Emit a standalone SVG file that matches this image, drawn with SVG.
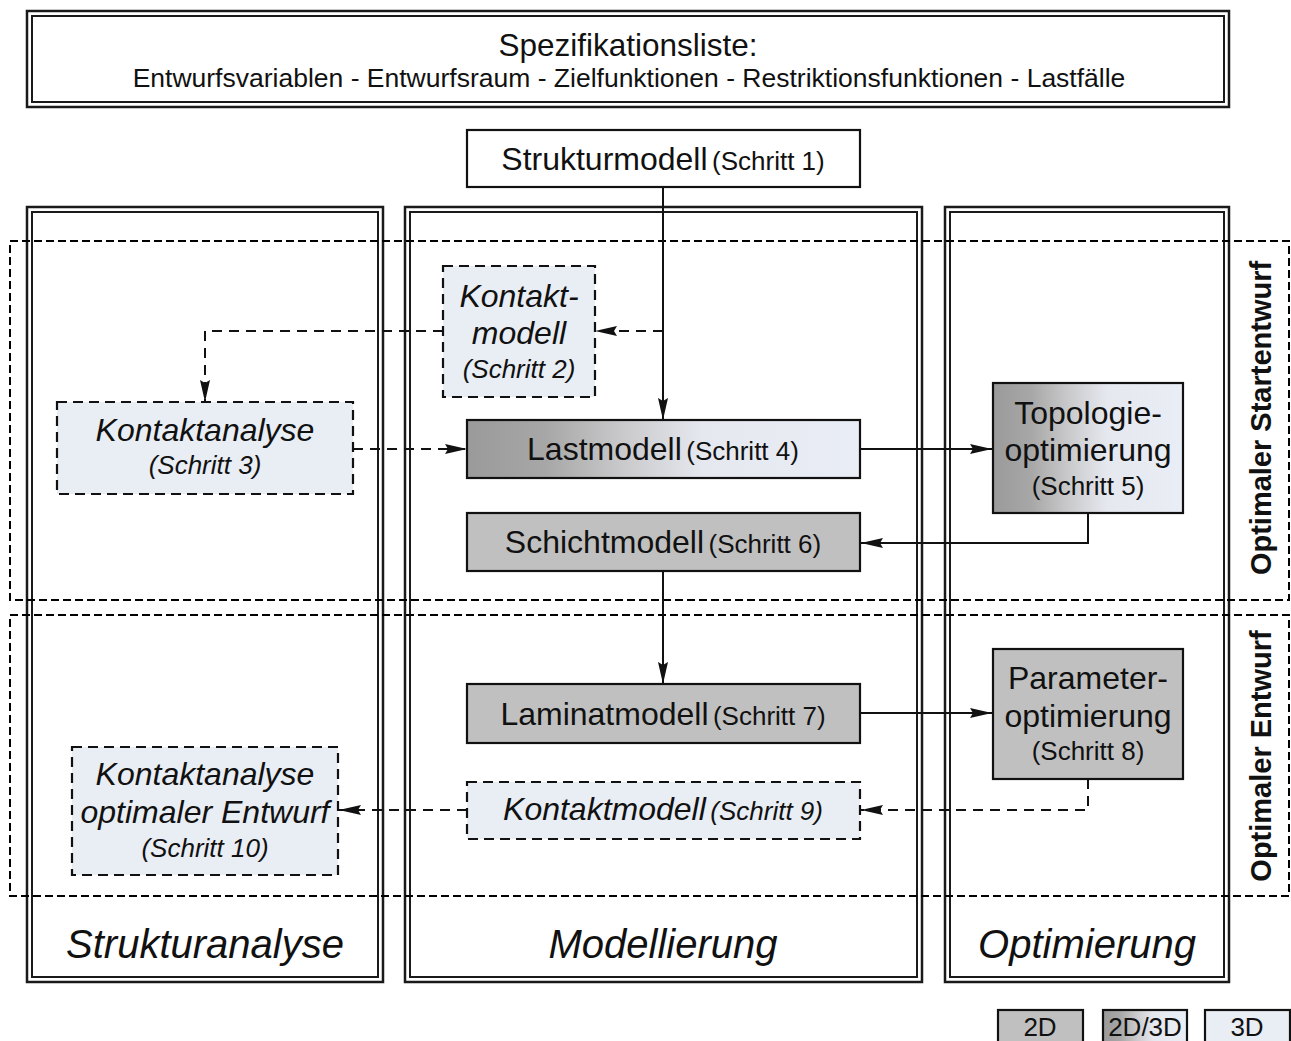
<svg xmlns="http://www.w3.org/2000/svg" width="1291" height="1041" viewBox="0 0 1291 1041">
  <style>
    text { font-family: "Liberation Sans", Arial, sans-serif; fill: #111; }
    .big { font-size: 32px; }
    .small { font-size: 26px; }
    .it { font-style: italic; }
    .col { font-size: 40px; font-style: italic; }
    .phase { font-size: 29px; font-weight: bold; }
    .dbl-out { fill: none; stroke: #1a1a1a; stroke-width: 2.5; }
    .dbl-in { fill: none; stroke: #1a1a1a; stroke-width: 2; }
    .region { fill: none; stroke: #000; stroke-width: 2; stroke-dasharray: 8 4; }
    .solidbox { stroke: #111; stroke-width: 2.2; }
    .dashbox { fill: #e9edf4; stroke: #111; stroke-width: 2.2; stroke-dasharray: 10 6; }
    .gray { fill: #c0c0c0; }
    .light { fill: #e9edf4; }
    .grad { fill: url(#g2d3d); }
    .conn { fill: none; stroke: #111; stroke-width: 2; marker-end: url(#arrow); }
    .conn.dash { stroke-dasharray: 10 7; }
  </style>
  <defs>
    <linearGradient id="g2d3d" x1="0" y1="0" x2="1" y2="0">
      <stop offset="0" stop-color="#9a9a9a"/>
      <stop offset="0.2" stop-color="#a7a7a7"/>
      <stop offset="0.4" stop-color="#cacacc"/>
      <stop offset="0.6" stop-color="#e5e8ef"/>
      <stop offset="1" stop-color="#e9edf5"/>
    </linearGradient>
    <marker id="arrow" viewBox="0 0 22 10" refX="22" refY="5" markerWidth="22" markerHeight="10" markerUnits="userSpaceOnUse" orient="auto">
      <path d="M0,0 L22,5 L0,10 L3,5 z" fill="#111" stroke="none"/>
    </marker>
  </defs>

  <rect width="1291" height="1041" fill="#fff"/>

  <!-- specification list -->
  <g id="spec">
    <rect class="dbl-out" x="27" y="11" width="1202" height="96"/>
    <rect class="dbl-in" x="32" y="16" width="1192" height="86"/>
    <text x="628" y="56" text-anchor="middle" style="font-size:31.5px">Spezifikationsliste:</text>
    <text x="629" y="87" text-anchor="middle" style="font-size:26.5px">Entwurfsvariablen - Entwurfsraum - Zielfunktionen - Restriktionsfunktionen - Lastfälle</text>
  </g>

  <!-- columns -->
  <g id="col-strukturanalyse">
    <rect class="dbl-out" x="27" y="207" width="356" height="775"/>
    <rect class="dbl-in" x="32" y="212" width="346" height="765"/>
    <text class="col" x="205" y="958" text-anchor="middle">Strukturanalyse</text>
  </g>
  <g id="col-modellierung">
    <rect class="dbl-out" x="405" y="207" width="517" height="775"/>
    <rect class="dbl-in" x="410" y="212" width="507" height="765"/>
    <text class="col" x="663" y="958" text-anchor="middle">Modellierung</text>
  </g>
  <g id="col-optimierung">
    <rect class="dbl-out" x="945" y="207" width="284" height="775"/>
    <rect class="dbl-in" x="950" y="212" width="274" height="765"/>
    <text class="col" x="1087" y="958" text-anchor="middle">Optimierung</text>
  </g>

  <!-- phases -->
  <g id="phase-start">
    <rect class="region" x="10" y="241" width="1279" height="359"/>
    <text class="phase" transform="translate(1271,418) rotate(-90)" text-anchor="middle">Optimaler Startentwurf</text>
  </g>
  <g id="phase-final">
    <rect class="region" x="10" y="615" width="1279" height="281"/>
    <text class="phase" transform="translate(1271,756) rotate(-90)" text-anchor="middle">Optimaler Entwurf</text>
  </g>

  <!-- connectors -->
  <g id="connectors">
    <path class="conn" d="M663,187 V420"/>
    <path class="conn dash" d="M663,331 H595"/>
    <path class="conn dash" d="M443,331 H205 V402"/>
    <path class="conn dash" d="M353,449 H467"/>
    <path class="conn" d="M860,449 H992"/>
    <path class="conn" d="M1088,513 V543 H861"/>
    <path class="conn" d="M663,571 V684"/>
    <path class="conn" d="M860,713 H992"/>
    <path class="conn dash" d="M1088,779 V810 H861"/>
    <path class="conn dash" d="M467,810 H339"/>
  </g>

  <!-- nodes -->
  <g id="n1">
    <rect class="solidbox" fill="#fff" x="467" y="130" width="393" height="57"/>
    <text x="663" y="170" text-anchor="middle"><tspan class="big">Strukturmodell</tspan> <tspan class="small">(Schritt 1)</tspan></text>
  </g>
  <g id="n2">
    <rect class="dashbox" x="443" y="266" width="152" height="131"/>
    <text class="big it" x="519" y="307" text-anchor="middle">Kontakt-</text>
    <text class="big it" x="519" y="344" text-anchor="middle">modell</text>
    <text class="small it" x="519" y="378" text-anchor="middle">(Schritt 2)</text>
  </g>
  <g id="n3">
    <rect class="dashbox" x="57" y="402" width="296" height="92"/>
    <text class="big it" x="205" y="441" text-anchor="middle">Kontaktanalyse</text>
    <text class="small it" x="205" y="474" text-anchor="middle">(Schritt 3)</text>
  </g>
  <g id="n4">
    <rect class="solidbox grad" x="467" y="420" width="393" height="58"/>
    <text x="663" y="460" text-anchor="middle"><tspan class="big">Lastmodell</tspan> <tspan class="small">(Schritt 4)</tspan></text>
  </g>
  <g id="n5">
    <rect class="solidbox grad" x="993" y="383" width="190" height="130"/>
    <text class="big" x="1088" y="424" text-anchor="middle">Topologie-</text>
    <text class="big" x="1088" y="461" text-anchor="middle">optimierung</text>
    <text class="small" x="1088" y="495" text-anchor="middle">(Schritt 5)</text>
  </g>
  <g id="n6">
    <rect class="solidbox gray" x="467" y="513" width="393" height="58"/>
    <text x="663" y="553" text-anchor="middle"><tspan class="big">Schichtmodell</tspan> <tspan class="small">(Schritt 6)</tspan></text>
  </g>
  <g id="n7">
    <rect class="solidbox gray" x="467" y="684" width="393" height="59"/>
    <text x="663" y="725" text-anchor="middle"><tspan class="big">Laminatmodell</tspan> <tspan class="small">(Schritt 7)</tspan></text>
  </g>
  <g id="n8">
    <rect class="solidbox gray" x="993" y="649" width="190" height="130"/>
    <text class="big" x="1088" y="689" text-anchor="middle">Parameter-</text>
    <text class="big" x="1088" y="727" text-anchor="middle">optimierung</text>
    <text class="small" x="1088" y="760" text-anchor="middle">(Schritt 8)</text>
  </g>
  <g id="n9">
    <rect class="dashbox" x="467" y="782" width="393" height="57"/>
    <text class="it" x="663" y="820" text-anchor="middle"><tspan class="big">Kontaktmodell</tspan> <tspan class="small">(Schritt 9)</tspan></text>
  </g>
  <g id="n10">
    <rect class="dashbox" x="72" y="747" width="266" height="128"/>
    <text class="big it" x="205" y="785" text-anchor="middle">Kontaktanalyse</text>
    <text class="big it" x="205" y="823" text-anchor="middle">optimaler Entwurf</text>
    <text class="small it" x="205" y="857" text-anchor="middle">(Schritt 10)</text>
  </g>

  <!-- legend -->
  <g id="legend-2d">
    <rect class="solidbox gray" x="998" y="1010" width="85" height="40"/>
    <text class="small" x="1040" y="1036" text-anchor="middle">2D</text>
  </g>
  <g id="legend-2d3d">
    <rect class="solidbox grad" x="1103" y="1010" width="84" height="40"/>
    <text class="small" x="1145" y="1036" text-anchor="middle">2D/3D</text>
  </g>
  <g id="legend-3d">
    <rect class="solidbox light" x="1205" y="1010" width="85" height="40"/>
    <text class="small" x="1247" y="1036" text-anchor="middle">3D</text>
  </g>
</svg>
